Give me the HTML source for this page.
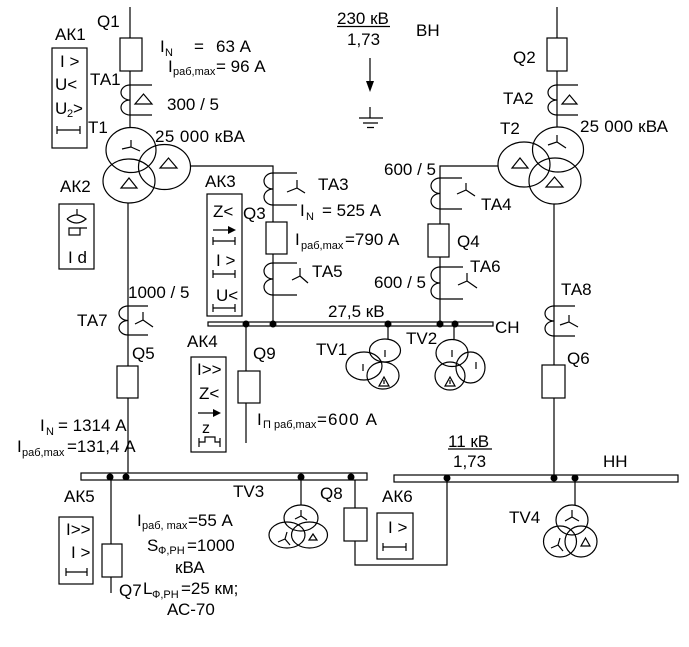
<!DOCTYPE html>
<html><head><meta charset="utf-8">
<style>
html,body{margin:0;padding:0;background:#fff;}
svg{display:block;}
text{font-family:"Liberation Sans",Arial,sans-serif;font-size:17px;fill:#000;}
.s{font-size:11px;}
.m{font-size:16px;}
</style></head><body>
<svg width="689" height="647" viewBox="0 0 689 647" xmlns="http://www.w3.org/2000/svg">
<rect width="689" height="647" fill="#fff"/>
<g fill="none" stroke="#000" stroke-width="1.2">
 <!-- main lines -->
 <path d="M130,7V38 M130,71V128 M557,7V38 M557,71V127 M191,166H273V324 M498,166H440V324 M128,203V476 M554,204V478 M246,324V443 M111,477V593 M301,477V505 M355,477V565H447V478 M575,478V505 M388,324V339 M454,324V339"/>
 <!-- breakers -->
 <g fill="#fff">
  <rect x="120" y="38" width="22" height="33"/>
  <rect x="547" y="38" width="20" height="33"/>
  <rect x="266" y="222" width="21" height="32"/>
  <rect x="428" y="224" width="21" height="33"/>
  <rect x="117" y="366" width="21" height="32"/>
  <rect x="542" y="365" width="23" height="33"/>
  <rect x="238" y="371" width="22" height="32"/>
  <rect x="102" y="544" width="20" height="33"/>
  <rect x="344" y="508" width="23" height="33"/>
 </g>
 <!-- relay boxes -->
 <rect x="52" y="48" width="35" height="100"/>
 <rect x="59" y="204" width="35" height="65"/>
 <rect x="207" y="194" width="35" height="122"/>
 <rect x="191" y="357" width="35" height="95"/>
 <rect x="59" y="517" width="34" height="67"/>
 <rect x="377" y="513" width="36" height="46"/>

 <!-- current transformers -->
 <path d="M130,85 A9,7.5 0 0 0 130,100 A9,7.5 0 0 0 130,115 M130,85H152 M130,115H152 M135,104L152,104L143.5,94Z"/>
 <path d="M557,85 A9,7.5 0 0 0 557,100 A9,7.5 0 0 0 557,115 M557,85H578 M557,115H578 M562,104L577,104L569.5,95Z"/>
 <path d="M273,173 A9,8 0 0 0 273,189 A9,8 0 0 0 273,205 M273,173H297 M273,205H297 M297,180V188L287,192 M297,188L305,193"/>
 <path d="M273,263 A9,8 0 0 0 273,279 A9,8 0 0 0 273,295 M273,263H297 M273,295H297 M300,268V276L292,280 M300,276L308,283"/>
 <path d="M440,178 A9,7.75 0 0 0 440,193.5 A9,7.75 0 0 0 440,209 M440,178H462 M440,209H462 M466,183V190L457,194 M466,190L475,196"/>
 <path d="M440,267 A9,8 0 0 0 440,283 A9,8 0 0 0 440,299 M440,267H463 M440,299H463 M467,273V281L458,285 M467,281L477,288"/>
 <path d="M128,306 A9,7.25 0 0 0 128,320.5 A9,7.25 0 0 0 128,335 M128,306H148 M128,335H148 M143,312V320L135,324 M143,320L153,327"/>
 <path d="M554,306 A9,7.5 0 0 0 554,321 A9,7.5 0 0 0 554,336 M554,306H575 M554,336H575 M569,315V322L560,325 M569,322L578,327"/>

 <!-- T1 -->
 <ellipse cx="131" cy="150" rx="25" ry="22.5"/>
 <ellipse cx="164.5" cy="167" rx="26" ry="22.5"/>
 <ellipse cx="129" cy="181" rx="26" ry="22"/>
 <path d="M131,140V147L122,149 M131,147L140,151 M160,168L177,168L168.5,158Z M121,188L137,188L129,178Z"/>
 <!-- T2 -->
 <ellipse cx="558" cy="149.5" rx="25.5" ry="22.5"/>
 <ellipse cx="524" cy="164.5" rx="26" ry="22.5"/>
 <ellipse cx="555" cy="181" rx="26" ry="23"/>
 <path d="M557,135V142L548,145 M557,142L566,148 M512,168L528,168L520,158Z M546,187L563,187L554.5,177Z"/>

 <!-- TV1 -->
 <ellipse cx="385" cy="350.5" rx="15.5" ry="11.5"/>
 <ellipse cx="364" cy="366" rx="18" ry="14"/>
 <ellipse cx="383" cy="375.5" rx="16" ry="13.5"/>
 <path d="M385,350V357 M363,364V371 M379,386L389,386L384,377Z M384,380V384"/>
 <!-- TV2 -->
 <ellipse cx="452" cy="353" rx="16" ry="13.5"/>
 <ellipse cx="470.5" cy="367.5" rx="14.5" ry="15.5"/>
 <ellipse cx="450" cy="376" rx="15" ry="14"/>
 <path d="M452,350V357 M476,362V369 M445,386L455,386L450,377Z M450,380V384"/>
 <!-- TV3 -->
 <ellipse cx="301" cy="518" rx="17" ry="13"/>
 <ellipse cx="287" cy="535" rx="18" ry="13"/>
 <ellipse cx="309.5" cy="535" rx="18" ry="13"/>
 <path d="M301,510V516L295,519 M301,516L307,520 M285,539L278,542 M285,539L287,532 M285,539L290,545 M309,540L317,540L313,534Z"/>
 <!-- TV4 -->
 <ellipse cx="572" cy="520" rx="16" ry="15"/>
 <ellipse cx="560" cy="541.5" rx="16.5" ry="15.5"/>
 <ellipse cx="581" cy="541.5" rx="16" ry="15.5"/>
 <path d="M572,510V517L565,521 M572,517L579,521 M558,545L551,548 M558,545L560,538 M558,545L563,551 M581,546L590,546L585.5,538Z"/>

 <!-- ground / arrow -->
 <path d="M370,58V84 M370,107V118 M359,118H383 M363,123H378 M367,127.5H374"/>

 <!-- AK1 bracket -->
 <path d="M57,130H80 M57,126V134 M80,126V134"/>
 <!-- AK2 symbol -->
 <path d="M77,209V215 M67,219 Q76.5,211 86,219 Q76.5,227 67,219 M80,228H87"/>
 <rect x="69" y="228" width="11" height="7"/>
 <!-- AK3 -->
 <path d="M213,230H229 M213,241H235 M213,237V245 M235,237V245 M213,274H235 M213,270V278 M235,270V278 M213,308H235 M213,304V312 M235,304V312"/>
 <!-- AK4 -->
 <path d="M198,413H214 M199,442H205V437H215V442H220 M199,438V447 M220,438V447"/>
 <!-- AK5 -->
 <path d="M66,572H87 M66,568V576 M87,568V576"/>
 <!-- AK6 -->
 <path d="M383,547H406 M383,543V551 M406,543V551"/>
 <!-- underlines -->
 <path d="M337,26.5H390 M448,449H492"/>

 <!-- buses -->
 <rect x="208" y="322" width="285" height="4" fill="#fff"/>
 <rect x="81" y="473" width="286" height="7" fill="#fff"/>
 <rect x="394" y="475" width="284" height="7" fill="#fff"/>
</g>
<g fill="#000">
 <path d="M366,81L374,81L370,92Z"/>
 <path d="M228,226L236,230L228,234Z"/>
 <path d="M213,409L221,413L213,417Z"/>
 <circle cx="246" cy="324" r="3.5"/><circle cx="273" cy="324" r="3.5"/><circle cx="388" cy="324" r="3.5"/><circle cx="440" cy="324" r="3.5"/><circle cx="455" cy="324" r="3.5"/>
 <circle cx="110" cy="477" r="3.5"/><circle cx="126" cy="477" r="3.5"/><circle cx="301" cy="477" r="3.5"/><circle cx="351" cy="477" r="3.5"/>
 <circle cx="447" cy="478" r="3.5"/><circle cx="554" cy="478" r="3.5"/><circle cx="575" cy="478" r="3.5"/>
</g>

<!-- texts -->
<text x="97" y="27">Q1</text>
<text x="55" y="40">АК1</text>
<text x="160" y="52">I</text><text class="s" x="165" y="56">N</text><text x="194" y="52">=</text><text x="216" y="52">63 А</text>
<text x="168" y="72">I</text><text class="s" x="173" y="75">раб,max</text><text x="216" y="72">= 96 А</text>
<text x="90" y="85">ТА1</text>
<text x="167" y="110">300 / 5</text>
<text x="88" y="133">Т1</text>
<text x="155" y="142" textLength="90" lengthAdjust="spacing">25 000 кВА</text>
<text x="60" y="67">I &gt;</text>
<text x="55" y="90">U&lt;</text>
<text x="55" y="114">U</text><text class="s" x="67" y="117">2</text><text x="73" y="114">&gt;</text>

<text x="60" y="192">АК2</text>
<text x="68" y="263">I d</text>
<text x="205" y="187">АК3</text>
<text x="213" y="217">Z&lt;</text>
<text x="216" y="266">I &gt;</text>
<text x="216" y="301">U&lt;</text>

<text x="318" y="190">ТА3</text>
<text x="243" y="219">Q3</text>
<text x="300" y="216">I</text><text class="s" x="306" y="220">N</text><text x="322" y="216">= 525 А</text>
<text x="295" y="245">I</text><text class="s" x="301" y="249">раб,max</text><text x="345" y="245">=790 А</text>
<text x="312" y="277">ТА5</text>
<text x="328" y="317">27,5 кВ</text>
<text x="495" y="333">СН</text>
<text x="384" y="175">600 / 5</text>
<text x="481" y="210">ТА4</text>
<text x="457" y="247">Q4</text>
<text x="470" y="272">ТА6</text>
<text x="374" y="288">600 / 5</text>

<text x="337" y="24">230 кВ</text>
<text x="347" y="45">1,73</text>
<text x="416" y="36">ВН</text>
<text x="513" y="63">Q2</text>
<text x="503" y="104">ТА2</text>
<text x="500" y="134">Т2</text>
<text x="580" y="132" textLength="88" lengthAdjust="spacing">25 000 кВА</text>
<text x="561" y="295">ТА8</text>
<text x="567" y="364">Q6</text>
<text x="316" y="355">TV1</text>
<text x="406" y="344">TV2</text>

<text x="128" y="298">1000 / 5</text>
<text x="77" y="326">ТА7</text>
<text x="132" y="359">Q5</text>
<text x="187" y="347">АК4</text>
<text x="197" y="375">I&gt;&gt;</text>
<text x="199" y="399">Z&lt;</text>
<text class="m" x="202" y="433">z</text>
<text x="253" y="359">Q9</text>
<text x="257" y="425">I</text><text class="s" x="263" y="428">П раб,max</text><text x="317" y="425" textLength="60" lengthAdjust="spacing">=600 А</text>

<text x="40" y="431">I</text><text class="s" x="46" y="435">N</text><text x="58" y="431">= 1314 А</text>
<text x="17" y="452">I</text><text class="s" x="22" y="456">раб,max</text><text x="67" y="452">=131,4 А</text>

<text x="64" y="502">АК5</text>
<text x="66" y="535">I&gt;&gt;</text>
<text x="71" y="558">I &gt;</text>
<text x="233" y="497">TV3</text>
<text x="320" y="499">Q8</text>
<text x="382" y="502">АК6</text>
<text x="388" y="533">I &gt;</text>
<text x="448" y="447">11 кВ</text>
<text x="453" y="467">1,73</text>
<text x="603" y="467">НН</text>
<text x="509" y="523">TV4</text>

<text x="137" y="526">I</text><text class="s" x="142" y="529">раб, max</text><text x="188" y="526">=55 А</text>
<text x="147" y="551">S</text><text class="s" x="158" y="554">Ф,РН</text><text x="187" y="551">=1000</text>
<text x="175" y="573">кВА</text>
<text x="119" y="596">Q7</text>
<text x="143" y="594">L</text><text class="s" x="152" y="598">Ф,РН</text><text x="181" y="594">=25 км;</text>
<text x="167" y="615">АС-70</text>
</svg>
</body></html>
